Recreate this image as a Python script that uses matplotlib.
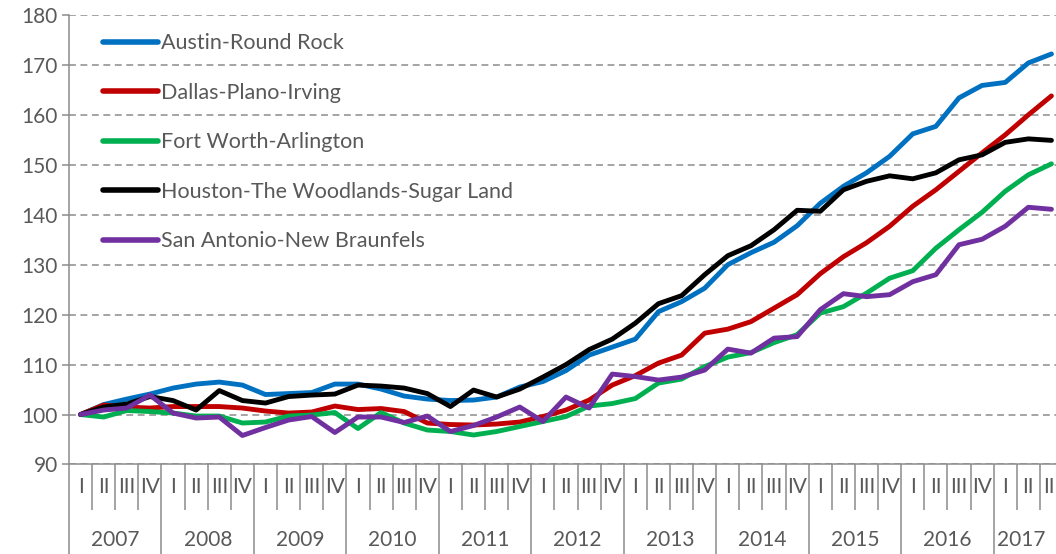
import numpy as np
import matplotlib.pyplot as plt
from matplotlib.transforms import blended_transform_factory

plt.rcParams['font.family'] = ['Lato', 'DejaVu Sans']

years = ['2007', '2008', '2009', '2010', '2011', '2012', '2013', '2014', '2015', '2016', '2017']
quarters = (['I', 'II', 'III', 'IV'] * 11)[:43]

austin = [100.0, 102.0, 103.1, 104.1, 105.3, 106.1, 106.5, 105.9, 104.0, 104.2, 104.4,
          106.1, 106.1, 105.1, 103.7, 103.1, 102.8, 102.9, 103.5, 105.5, 106.6, 108.8,
          111.9, 113.5, 115.1, 120.6, 122.6, 125.3, 130.0, 132.4, 134.5, 137.8, 142.3,
          145.7, 148.4, 151.7, 156.2, 157.7, 163.4, 165.9, 166.5, 170.4, 172.2]
dallas = [100.0, 101.9, 101.5, 101.3, 101.6, 101.6, 101.6, 101.3, 100.7, 100.3, 100.5,
          101.7, 101.0, 101.2, 100.6, 98.3, 98.0, 97.9, 98.1, 98.5, 99.6, 100.9,
          102.9, 105.9, 107.8, 110.3, 111.9, 116.3, 117.1, 118.6, 121.3, 124.0, 128.2,
          131.6, 134.4, 137.7, 141.7, 145.0, 148.7, 152.4, 156.0, 160.0, 163.8]
fortworth = [100.0, 99.5, 100.8, 100.6, 100.3, 99.7, 99.7, 98.3, 98.5, 99.7, 99.9,
             100.4, 97.2, 100.4, 98.3, 96.9, 96.6, 95.9, 96.6, 97.6, 98.6, 99.6,
             101.7, 102.2, 103.2, 106.3, 107.1, 109.6, 111.5, 112.4, 114.4, 116.0, 120.3,
             121.6, 124.3, 127.3, 128.8, 133.3, 137.0, 140.5, 144.7, 148.0, 150.2]
houston = [100.0, 101.5, 102.1, 103.6, 102.8, 100.9, 104.8, 102.8, 102.3, 103.6, 103.9,
           104.1, 105.9, 105.7, 105.3, 104.2, 101.6, 104.9, 103.5, 105.1, 107.5, 110.0,
           113.0, 115.1, 118.3, 122.2, 123.8, 128.0, 131.8, 133.8, 137.0, 140.9, 140.7,
           145.0, 146.7, 147.8, 147.2, 148.4, 151.0, 152.0, 154.5, 155.2, 154.9]
sanantonio = [100.0, 100.9, 101.3, 103.9, 100.3, 99.3, 99.5, 95.8, 97.4, 98.9, 99.6,
              96.4, 99.5, 99.5, 98.4, 99.7, 96.6, 97.8, 99.5, 101.5, 98.6, 103.5,
              101.3, 108.1, 107.6, 106.9, 107.5, 108.9, 113.1, 112.3, 115.3, 115.6, 121.0,
              124.2, 123.6, 124.0, 126.6, 128.0, 134.0, 135.1, 137.7, 141.5, 141.1]

series = [
    ('Austin-Round Rock', austin, '#0070C0'),
    ('Dallas-Plano-Irving', dallas, '#C00000'),
    ('Fort Worth-Arlington', fortworth, '#00B050'),
    ('Houston-The Woodlands-Sugar Land', houston, '#000000'),
    ('San Antonio-New Braunfels', sanantonio, '#7030A0'),
]

txt = '#595959'
gray = '#8c8c8c'

fig = plt.figure(figsize=(10.56, 5.54), dpi=100)
ax = fig.add_axes([69 / 1056, 0.1616, 994 / 1056, 0.8113])

x = np.arange(len(austin))
for name, vals, col in series:
    ax.plot(x, vals, color=col, lw=3.5, label=name,
            solid_capstyle='round', solid_joinstyle='round')

ax.set_xlim(-0.5, 42.5)
ax.set_ylim(90, 180)
ax.set_yticks(np.arange(90, 181, 10))
ax.yaxis.grid(True, color=gray, lw=1.1, linestyle=(0, (4.5, 3)))
ax.set_axisbelow(True)
for s in ['top', 'right']:
    ax.spines[s].set_visible(False)
for s in ['left', 'bottom']:
    ax.spines[s].set_color(gray)
    ax.spines[s].set_linewidth(1.1)

ax.tick_params(axis='y', colors=gray, labelcolor=txt, labelsize=15, length=5, width=1.1, pad=3)

# two level category axis: year boundaries long, quarter boundaries short
year_edges = np.arange(-0.5, 42.5, 4)
q_edges = [e for e in np.arange(-0.5, 42.6, 1) if e not in year_edges]
ax.set_xticks(year_edges)
ax.set_xticks(q_edges, minor=True)
ax.tick_params(axis='x', which='major', length=65, width=1.1, color=gray, labelbottom=False)
ax.tick_params(axis='x', which='minor', length=33, width=1.1, color=gray, labelbottom=False)

tr = blended_transform_factory(ax.transData, ax.transAxes)
for i, q in enumerate(quarters):
    ax.text(i, -0.051, q, transform=tr, ha='center', va='center', fontsize=15, color=txt)
for k, yr in enumerate(years):
    cx = 4 * k + 1.5 if k < 10 else 40.7
    ax.text(cx, -0.168, yr, transform=tr, ha='center', va='center', fontsize=15, color=txt)

leg = ax.legend(loc='upper left', bbox_to_anchor=(0.034, 0.959), frameon=False,
                fontsize=15.5, handlelength=2.55, handletextpad=0.15,
                labelspacing=1.37, borderpad=0, borderaxespad=0, labelcolor=txt)
for h in leg.get_lines():
    h.set_linewidth(4)

fig.savefig('out.png', dpi=100)
